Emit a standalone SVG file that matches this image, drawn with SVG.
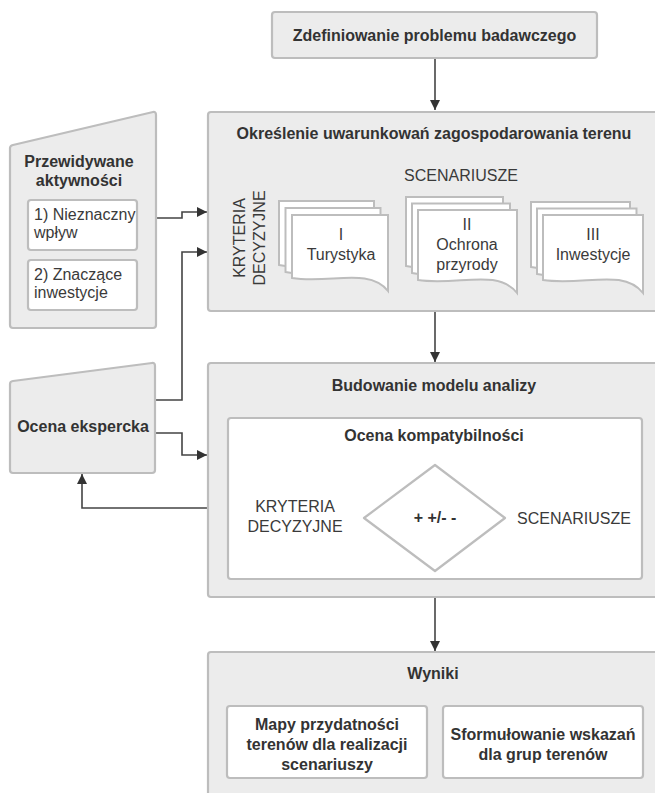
<svg xmlns="http://www.w3.org/2000/svg" width="655" height="793" viewBox="0 0 655 793">
<defs>
<style>
.box{fill:#ececec;stroke:#bdbdbd;stroke-width:2.2}
.wbox{fill:#ffffff;stroke:#bdbdbd;stroke-width:2.2}
.doc{fill:#ffffff;stroke:#bdbdbd;stroke-width:2}
.b{font-family:"Liberation Sans",Arial,sans-serif;font-weight:bold;font-size:16px;fill:#333333}
.r{font-family:"Liberation Sans",Arial,sans-serif;font-size:16px;fill:#3a3a3a}
.m{text-anchor:middle}
.con{fill:none;stroke:#444444;stroke-width:1.6}
</style>
<marker id="ah" viewBox="0 0 10 10" refX="10" refY="5" markerWidth="10" markerHeight="10" markerUnits="userSpaceOnUse" orient="auto">
<path d="M0,0 L10,5 L0,10 Z" fill="#333333"/>
</marker>
</defs>
<rect width="655" height="793" fill="#ffffff"/>

<g id="connectors">
<path class="con" d="M435,58 V110" marker-end="url(#ah)"/>
<path class="con" d="M156,218 H182 V212 H207" marker-end="url(#ah)"/>
<path class="con" d="M155,400 H182 V252 H207" marker-end="url(#ah)"/>
<path class="con" d="M155,433 H182 V455 H207" marker-end="url(#ah)"/>
<path class="con" d="M208,508 H82 V474" marker-end="url(#ah)"/>
<path class="con" d="M435,311 V362" marker-end="url(#ah)"/>
<path class="con" d="M435,597 V651" marker-end="url(#ah)"/>
</g>

<g id="problem">
<rect class="box" x="272" y="12" width="325" height="46" rx="3"/>
<text class="b m" x="434.5" y="41">Zdefiniowanie problemu badawczego</text>
</g>

<g id="uwarunkowania">
<rect class="box" x="208" y="112" width="460" height="199" rx="3"/>
<text class="b m" x="434" y="139">Określenie uwarunkowań zagospodarowania terenu</text>
<text class="r m" x="461" y="181">SCENARIUSZE</text>
<text class="r m" transform="translate(245,238) rotate(-90)">KRYTERIA</text>
<text class="r m" transform="translate(265,238) rotate(-90)">DECYZYJNE</text>
</g>

<g id="scen1">
<path class="doc" d="M279,201 H374 V276 C356,260 330,274 279,265 Z"/>
<path class="doc" d="M285.5,208 H380.5 V283 C362,267 336,281 285.5,272 Z"/>
<path class="doc" d="M292,215 H388 V291 C369,267 330,284 292,278 Z"/>
<text class="r m" x="341" y="240">I</text>
<text class="r m" x="341" y="260">Turystyka</text>
</g>

<g id="scen2">
<path class="doc" d="M406,197 H503 V278 C484,260 457,276 406,266 Z"/>
<path class="doc" d="M412,203.5 H510 V285 C491,267 464,283 412,273 Z"/>
<path class="doc" d="M418,210 H517 V293 C497,268 458,286 418,280 Z"/>
<text class="r m" x="467" y="230">II</text>
<text class="r m" x="467" y="250">Ochrona</text>
<text class="r m" x="467" y="270">przyrody</text>
</g>

<g id="scen3">
<path class="doc" d="M531,202 H630 V278 C611,262 584,276 531,267 Z"/>
<path class="doc" d="M537,208.5 H636.5 V285 C617,269 590,283 537,274 Z"/>
<path class="doc" d="M543,215 H643 V293 C623,268 584,286 543,280 Z"/>
<text class="r m" x="593" y="240">III</text>
<text class="r m" x="593" y="260">Inwestycje</text>
</g>

<g id="przewidywane">
<path class="box" d="M13,145 L153,112 Q156,111.5 156,115 V325 Q156,328 153,328 H13 Q10,328 10,325 V148 Q10,145.7 13,145 Z"/>
<text class="b m" x="79" y="167">Przewidywane</text>
<text class="b m" x="79" y="186">aktywności</text>
<rect class="wbox" x="28" y="200" width="109" height="50" rx="3"/>
<text class="r" x="34" y="220">1) Nieznaczny</text>
<text class="r" x="34" y="238">wpływ</text>
<rect class="wbox" x="28" y="260" width="109" height="50" rx="3"/>
<text class="r" x="34" y="280">2) Znaczące</text>
<text class="r" x="34" y="298">inwestycje</text>
</g>

<g id="ekspercka">
<path class="box" d="M13,381 L152,363 Q155,362.6 155,366 V470 Q155,473 152,473 H13 Q10,473 10,470 V384 Q10,381.4 13,381 Z"/>
<text class="b m" x="83" y="432">Ocena ekspercka</text>
</g>

<g id="model">
<rect class="box" x="208" y="363" width="460" height="234" rx="3"/>
<text class="b m" x="434" y="391">Budowanie modelu analizy</text>
</g>

<g id="kompatybilnosc">
<rect class="wbox" x="228" y="418" width="414" height="161" rx="3"/>
<text class="b m" x="434" y="441">Ocena kompatybilności</text>
<path d="M435,465 L505,518 L435,571 L364,518 Z" fill="#ffffff" stroke="#bdbdbd" stroke-width="2.2" stroke-linejoin="round"/>
<text class="b m" x="435" y="523">+  +/-  -</text>
<text class="r m" x="295" y="512">KRYTERIA</text>
<text class="r m" x="295" y="532">DECYZYJNE</text>
<text class="r m" x="574" y="524">SCENARIUSZE</text>
</g>

<g id="wyniki">
<rect class="box" x="208" y="652" width="460" height="160" rx="3"/>
<text class="b m" x="433" y="679">Wyniki</text>
</g>

<g id="mapy">
<rect class="wbox" x="227" y="706" width="200" height="72" rx="3"/>
<text class="b m" x="327" y="730">Mapy przydatności</text>
<text class="b m" x="327" y="750">terenów dla realizacji</text>
<text class="b m" x="327" y="770">scenariuszy</text>
</g>

<g id="wskazania">
<rect class="wbox" x="443" y="706" width="200" height="72" rx="3"/>
<text class="b m" x="543" y="740">Sformułowanie wskazań</text>
<text class="b m" x="543" y="760">dla grup terenów</text>
</g>
</svg>
